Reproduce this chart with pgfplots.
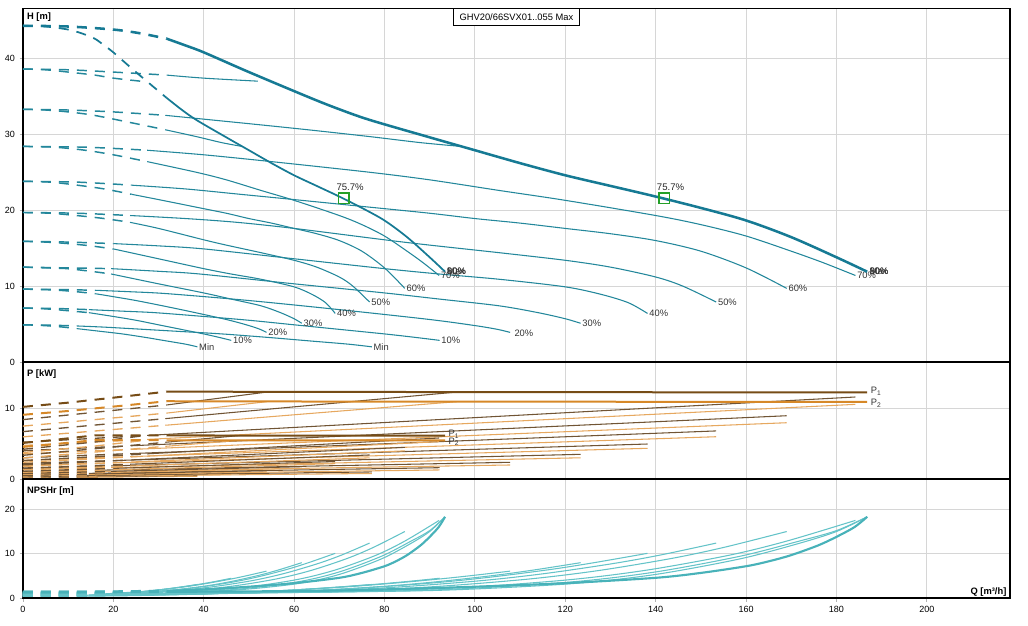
\documentclass[border=0pt]{standalone}
\usepackage{fontspec}
\setmainfont{Liberation Sans}
\usepackage{pgfplots}
\usepackage{pgfplotstable}
\pgfplotsset{compat=1.18}

\definecolor{hcol}{RGB}{35,135,155}
\definecolor{hthick}{RGB}{22,122,148}
\definecolor{ncol}{RGB}{100,195,200}
\definecolor{nthick}{RGB}{72,178,185}
\definecolor{p1col}{RGB}{112,84,52}
\definecolor{p1thick}{RGB}{118,76,22}
\definecolor{p2col}{RGB}{230,168,95}
\definecolor{p2thick}{RGB}{214,136,40}
\definecolor{mkgreen}{RGB}{36,160,40}
\definecolor{gridc}{RGB}{214,214,214}

% ---------------- H tables (single pump) ----------------
\pgfplotstableread[row sep=\\]{
Q Y\\
0 44.3\\
5 44.2\\
10 43.8\\
13 43.3\\
15.9 42.6\\
18 41.7\\
20 40.8\\
25 38.2\\
31.8 34.8\\
35 33.3\\
38.35 31.9\\
45 29.6\\
50 27.9\\
55 26.2\\
60 24.6\\
65 23.2\\
70 21.8\\
75 20.3\\
80 18.65\\
85 16.45\\
90 13.8\\
93.4 11.9\\
}\tHmax
\pgfplotstableread[row sep=\\]{
Q Y\\
0 38.6\\
5 38.5\\
10 38.2\\
15.9 37.8\\
20 37.4\\
26 37.0\\
}\tHninety
\pgfplotstableread[row sep=\\]{
Q Y\\
0 33.3\\
5 33.2\\
10 32.95\\
15.75 32.5\\
25 31.4\\
31.5 30.6\\
38.35 29.7\\
44 28.9\\
48.5 28.4\\
}\tHeighty
\pgfplotstableread[row sep=\\]{
Q Y\\
0 28.4\\
7 28.3\\
13.75 27.9\\
20 27.3\\
27.5 26.4\\
38.35 25.0\\
45 24.0\\
52.7 22.6\\
60 21.3\\
70 19.3\\
75 18.1\\
80 16.6\\
85 14.6\\
88.5 13.1\\
92.1 11.4\\
}\tHseventy
\pgfplotstableread[row sep=\\]{
Q Y\\
0 23.8\\
6 23.7\\
12 23.3\\
18 22.8\\
24 22.1\\
30 21.4\\
38.35 20.4\\
45 19.6\\
50 18.9\\
55 18.3\\
60 17.6\\
65 16.9\\
70 16.0\\
75 14.6\\
80 12.4\\
84.5 9.7\\
}\tHsixty
\pgfplotstableread[row sep=\\]{
Q Y\\
0 19.7\\
6 19.6\\
11.85 19.3\\
18 18.9\\
23.7 18.4\\
30 17.6\\
40 16.1\\
45 15.4\\
52.7 14.4\\
60 13.4\\
65 12.5\\
70 11.2\\
73 10.0\\
76.7 7.9\\
}\tHfifty
\pgfplotstableread[row sep=\\]{
Q Y\\
0 15.9\\
5 15.8\\
10 15.6\\
15 15.3\\
20 14.9\\
30 13.6\\
40 12.3\\
46 11.6\\
52.7 10.9\\
60 9.9\\
64 8.9\\
67 7.8\\
69.1 6.4\\
}\tHforty
\pgfplotstableread[row sep=\\]{
Q Y\\
0 12.5\\
5 12.4\\
9.75 12.3\\
15 11.95\\
19.5 11.6\\
30 10.3\\
40 9.1\\
46 8.3\\
52.7 7.4\\
57 6.5\\
60 5.7\\
61.7 5.1\\
}\tHthirty
\pgfplotstableread[row sep=\\]{
Q Y\\
0 9.6\\
4 9.55\\
8 9.45\\
12 9.25\\
16 9.0\\
25 8.1\\
35 6.9\\
45 5.6\\
50 4.8\\
52.5 4.3\\
53.9 3.9\\
}\tHtwenty
\pgfplotstableread[row sep=\\]{
Q Y\\
0 7.1\\
3.65 7.05\\
7.3 6.9\\
11 6.7\\
14.6 6.5\\
20 6.0\\
25 5.5\\
30 4.9\\
35 4.3\\
40 3.7\\
43 3.3\\
46.1 2.85\\
}\tHten
\pgfplotstableread[row sep=\\]{
Q Y\\
0 4.9\\
3 4.85\\
5.95 4.75\\
8.9 4.6\\
11.9 4.4\\
17 4.05\\
22 3.7\\
27 3.25\\
32 2.75\\
36 2.35\\
38.6 2.0\\
}\tHmin

% ---------------- P tables (single pump): A = P1, B = P2 ----------------
\pgfplotstableread[row sep=\\]{
Q A B\\
0 5.1 4.54\\
5 5.4 4.81\\
10 5.75 5.12\\
15.9 6.18 5.50\\
31.8 6.16 5.48\\
93.4 6.12 5.45\\
}\tPmax
\pgfplotstableread[row sep=\\]{
Q A B\\
0 4.2 3.74\\
15.9 5.235 4.66\\
27 6.15 5.47\\
}\tPninety
\pgfplotstableread[row sep=\\]{
Q A B\\
0 3.35 2.98\\
15.75 4.27 3.80\\
31.5 5.19 4.62\\
48 6.15 5.47\\
}\tPeighty
\pgfplotstableread[row sep=\\]{
Q A B\\
0 2.6 2.37\\
13.75 3.08 2.80\\
27.5 3.56 3.24\\
92.1 5.8 5.28\\
}\tPseventy
\pgfplotstableread[row sep=\\]{
Q A B\\
0 2.0 1.78\\
12 2.35 2.09\\
24 2.70 2.41\\
84.5 4.475 3.98\\
}\tPsixty
\pgfplotstableread[row sep=\\]{
Q A B\\
0 1.5 1.32\\
11.85 1.794 1.58\\
23.7 2.088 1.84\\
76.7 3.4 2.99\\
}\tPfifty
\pgfplotstableread[row sep=\\]{
Q A B\\
0 1.1 0.96\\
10 1.3 1.14\\
20 1.5 1.31\\
69.1 2.475 2.17\\
}\tPforty
\pgfplotstableread[row sep=\\]{
Q A B\\
0 0.775 0.667\\
9.75 0.929 0.799\\
19.5 1.082 0.931\\
61.7 1.745 1.50\\
}\tPthirty
\pgfplotstableread[row sep=\\]{
Q A B\\
0 0.52 0.437\\
8 0.618 0.519\\
16 0.716 0.601\\
53.9 1.18 0.991\\
}\tPtwenty
\pgfplotstableread[row sep=\\]{
Q A B\\
0 0.325 0.26\\
7.3 0.40 0.32\\
14.6 0.4755 0.38\\
46.1 0.80 0.64\\
}\tPten
\pgfplotstableread[row sep=\\]{
Q A B\\
0 0.19 0.148\\
5.95 0.238 0.186\\
11.9 0.286 0.223\\
38.6 0.5 0.39\\
}\tPmin

% ---------------- NPSHr tables (single pump) ----------------
\pgfplotstableread[row sep=\\]{
Q Y\\
0 1.4\\
15.9 1.45\\
31.8 1.65\\
40 2.0\\
50 2.6\\
60 3.4\\
70 4.6\\
75 5.7\\
80 7.2\\
82.5 8.3\\
85 9.7\\
88 11.9\\
90 13.8\\
92 16.0\\
93.4 18.3\\
}\tNmax
\pgfplotstableread[row sep=\\]{
Q Y\\
0 1.3\\
15.9 1.31\\
31.8 1.38\\
46.6 1.83\\
60.6 3.27\\
69.9 5.33\\
79.3 8.84\\
85.8 12.3\\
90 15.0\\
93.4 18.3\\
}\tNninety
\pgfplotstableread[row sep=\\]{
Q Y\\
0 1.2\\
15.75 1.2\\
31.5 1.33\\
46.6 1.96\\
60.6 3.66\\
69.9 5.89\\
79.3 9.43\\
85.8 12.8\\
90 15.2\\
93.4 18.3\\
}\tNeighty
\pgfplotstableread[row sep=\\]{
Q Y\\
0 1.1\\
13.75 1.11\\
27.5 1.23\\
45.9 2.13\\
59.7 4.03\\
68.9 6.29\\
78.1 9.66\\
84.5 12.85\\
92.1 17.5\\
}\tNseventy
\pgfplotstableread[row sep=\\]{
Q Y\\
0 1.0\\
12 1.02\\
24 1.17\\
42.2 2.24\\
54.8 4.10\\
63.3 6.12\\
71.7 8.93\\
77.6 11.46\\
84.5 15.0\\
}\tNsixty
\pgfplotstableread[row sep=\\]{
Q Y\\
0 0.9\\
11.85 0.93\\
23.7 1.17\\
38.3 2.15\\
49.8 3.80\\
57.45 5.48\\
65.1 7.74\\
70.5 9.71\\
76.7 12.4\\
}\tNfifty
\pgfplotstableread[row sep=\\]{
Q Y\\
0 0.8\\
10 0.83\\
20 1.03\\
34.4 1.96\\
44.75 3.35\\
51.6 4.72\\
58.5 6.51\\
63.3 8.04\\
69.1 10.1\\
}\tNforty
\pgfplotstableread[row sep=\\]{
Q Y\\
0 0.7\\
9.75 0.73\\
19.5 0.93\\
30.75 1.61\\
40 2.70\\
46.1 3.78\\
52.3 5.18\\
56.6 6.38\\
61.7 8.0\\
}\tNthirty
\pgfplotstableread[row sep=\\]{
Q Y\\
0 0.6\\
8 0.65\\
16 0.87\\
26.9 1.57\\
35 2.47\\
40.35 3.28\\
45.7 4.26\\
49.5 5.07\\
53.9 6.1\\
}\tNtwenty
\pgfplotstableread[row sep=\\]{
Q Y\\
0 0.5\\
7.3 0.54\\
14.6 0.73\\
23 1.21\\
29.9 1.86\\
34.5 2.45\\
39.1 3.16\\
42.4 3.75\\
46.1 4.5\\
}\tNten
\pgfplotstableread[row sep=\\]{
Q Y\\
0 0.45\\
5.95 0.475\\
11.9 0.59\\
19.25 0.92\\
25 1.35\\
28.9 1.74\\
32.7 2.22\\
35.4 2.6\\
38.6 3.1\\
}\tNmin

\tikzset{
 dp/.style={dash pattern=on 7.5pt off 6pt},
 lbl/.style={font=\fontsize{7}{8}\selectfont, anchor=west, inner sep=1pt, text=black!80},
 plbl/.style={font=\fontsize{7}{8}\selectfont, anchor=west, inner sep=2pt, text=black!80},
}

\pgfplotsset{
 hthin/.style={color=hcol, line width=0.8pt, smooth, tension=0.5},
 hmaxone/.style={color=hthick, line width=1.3pt, smooth, tension=0.5},
 hmaxtwo/.style={color=hthick, line width=1.9pt, smooth, tension=0.5},
 pone/.style={color=p1col, line width=0.8pt},
 ptwo/.style={color=p2col, line width=0.8pt},
 ponemax/.style={color=p1thick, line width=1.5pt},
 ptwomax/.style={color=p2thick, line width=1.5pt},
 nthin/.style={color=ncol, line width=0.8pt, smooth, tension=0.5},
 nmax/.style={color=nthick, line width=1.6pt, smooth, tension=0.5},
 panel/.style={scale only axis, width=740.3pt, xmin=0, xmax=218.4, clip=false,
   xtick={0,20,...,200}, grid=major, major grid style={draw=gridc, line width=0.75pt},
   axis line style={line width=0.9pt}, tick align=outside, major tick length=2.5pt,
   xtick pos=bottom, ytick pos=left,
   tick style={draw=gray!60, line width=0.6pt},
   tick label style={font=\fontsize{6.75}{8}\selectfont},
   /pgf/number format/assume math mode=true},
}

% #1 table, #2 column, #3 Qd-lo, #4 Qd-hi, #5 style, #6 y factor of the two-pump curve, #7 end node, #8 extra dashed style
\newcommand{\curvefam}[8]{%
  \addplot[#5,dp,#8,restrict x to domain=0:#4] table[x=Q,y=#2]{#1};
  \addplot[#5,restrict x to domain=#3:300] table[x=Q,y=#2]{#1} #7;
  \addplot[#5,dp,#8,restrict x to domain=0:#4] table[x expr=2*\thisrow{Q},y expr=#6*\thisrow{#2}]{#1};
  \addplot[#5,restrict x to domain=#3:300] table[x expr=2*\thisrow{Q},y expr=#6*\thisrow{#2}]{#1} #7;
}

\begin{document}
\begin{tikzpicture}
\useasboundingbox (0,0) rectangle (771pt,468.75pt);

% ================= H panel =================
\begin{axis}[panel, at={(17.18pt,197.25pt)}, anchor=south west, height=265.27pt,
  ymin=0, ymax=46.6, ytick={0,10,20,30,40}, xticklabels={},
  extra description/.code={\draw[line width=2pt] (rel axis cs:0,0)--(rel axis cs:1,0);}]
\curvefam{\tHmin}{Y}{11.89}{11.91}{hthin}{1}{node[lbl,pos=1]{Min}}{line width=1.1pt}
\curvefam{\tHten}{Y}{14.59}{14.61}{hthin}{1}{node[lbl,pos=1]{10\%}}{line width=1.1pt}
\curvefam{\tHtwenty}{Y}{15.99}{16.01}{hthin}{1}{node[lbl,pos=1]{20\%}}{line width=1.1pt}
\curvefam{\tHthirty}{Y}{19.49}{19.51}{hthin}{1}{node[lbl,pos=1]{30\%}}{line width=1.1pt}
\curvefam{\tHforty}{Y}{19.99}{20.01}{hthin}{1}{node[lbl,pos=1]{40\%}}{line width=1.1pt}
\curvefam{\tHfifty}{Y}{23.69}{23.71}{hthin}{1}{node[lbl,pos=1]{50\%}}{line width=1.1pt}
\curvefam{\tHsixty}{Y}{23.99}{24.01}{hthin}{1}{node[lbl,pos=1]{60\%}}{line width=1.1pt}
\curvefam{\tHseventy}{Y}{27.49}{27.51}{hthin}{1}{node[lbl,pos=1]{70\%}}{line width=1.1pt}
\curvefam{\tHeighty}{Y}{31.49}{31.51}{hthin}{1}{}{line width=1.1pt}
% 90 %
\addplot[hthin,dp,line width=1.1pt] table[x=Q,y=Y]{\tHninety};
\addplot[hthin,dp,line width=1.1pt,restrict x to domain=0:31.81] table[x expr=2*\thisrow{Q},y=Y]{\tHninety};
\addplot[hthin,restrict x to domain=31.79:300] table[x expr=2*\thisrow{Q},y=Y]{\tHninety};
% Max
\addplot[hmaxone,dp,restrict x to domain=0:31.81] table[x=Q,y=Y]{\tHmax};
\addplot[hmaxone,restrict x to domain=31.79:300] table[x=Q,y=Y]{\tHmax}
  node[lbl,pos=1]{80\%} node[lbl,pos=1]{90\%} node[lbl,pos=1]{Max};
\addplot[hmaxtwo,dp,restrict x to domain=0:31.81] table[x expr=2*\thisrow{Q},y=Y]{\tHmax};
\addplot[hmaxtwo,restrict x to domain=31.79:300] table[x expr=2*\thisrow{Q},y=Y]{\tHmax}
  node[lbl,pos=1]{80\%} node[lbl,pos=1]{90\%} node[lbl,pos=1]{Max};
% best efficiency points
\addplot[only marks, mark=square, mark size=3.9pt, mark options={draw=mkgreen, line width=1.1pt, fill=none},
  nodes near coords={75.7\%},
  nodes near coords style={font=\fontsize{7.2}{8}\selectfont, anchor=base west, xshift=-6pt, yshift=6pt, inner sep=0pt, text=black!85}]
  coordinates {(71.0,21.6) (141.9,21.6)};
\node[draw=black, line width=0.6pt, fill=white, anchor=north, minimum width=95pt, minimum height=12.5pt, inner sep=0pt,
  font=\fontsize{7}{8}\selectfont] at (rel axis cs:0.5,1) {GHV20/66SVX01..055 Max};
\node[anchor=north west, inner sep=0pt, font=\bfseries\fontsize{7}{8}\selectfont] at (rel axis cs:0,1) [xshift=3pt, yshift=-3.2pt] {H [m]};
\end{axis}

% ================= P panel =================
\begin{axis}[panel, at={(17.18pt,109.5pt)}, anchor=south west, height=87.75pt,
  ymin=0, ymax=16.55, ytick={0,10}, xticklabels={},
  extra description/.code={\draw[line width=2pt] (rel axis cs:0,0)--(rel axis cs:1,0);}]
\curvefam{\tPmin}{B}{11.89}{11.91}{ptwo}{2}{}{line width=1pt}
\curvefam{\tPmin}{A}{11.89}{11.91}{pone}{2}{}{line width=1pt}
\curvefam{\tPten}{B}{14.59}{14.61}{ptwo}{2}{}{line width=1pt}
\curvefam{\tPten}{A}{14.59}{14.61}{pone}{2}{}{line width=1pt}
\curvefam{\tPtwenty}{B}{15.99}{16.01}{ptwo}{2}{}{line width=1pt}
\curvefam{\tPtwenty}{A}{15.99}{16.01}{pone}{2}{}{line width=1pt}
\curvefam{\tPthirty}{B}{19.49}{19.51}{ptwo}{2}{}{line width=1pt}
\curvefam{\tPthirty}{A}{19.49}{19.51}{pone}{2}{}{line width=1pt}
\curvefam{\tPforty}{B}{19.99}{20.01}{ptwo}{2}{}{line width=1pt}
\curvefam{\tPforty}{A}{19.99}{20.01}{pone}{2}{}{line width=1pt}
\curvefam{\tPfifty}{B}{23.69}{23.71}{ptwo}{2}{}{line width=1pt}
\curvefam{\tPfifty}{A}{23.69}{23.71}{pone}{2}{}{line width=1pt}
\curvefam{\tPsixty}{B}{23.99}{24.01}{ptwo}{2}{}{line width=1pt}
\curvefam{\tPsixty}{A}{23.99}{24.01}{pone}{2}{}{line width=1pt}
\curvefam{\tPseventy}{B}{27.49}{27.51}{ptwo}{2}{}{line width=1pt}
\curvefam{\tPseventy}{A}{27.49}{27.51}{pone}{2}{}{line width=1pt}
\curvefam{\tPeighty}{B}{31.49}{31.51}{ptwo}{2}{}{line width=1pt}
\curvefam{\tPeighty}{A}{31.49}{31.51}{pone}{2}{}{line width=1pt}
% 90 %
\addplot[ptwo,dp,line width=1pt] table[x=Q,y=B]{\tPninety};
\addplot[pone,dp,line width=1pt] table[x=Q,y=A]{\tPninety};
\addplot[ptwo,dp,line width=1pt,restrict x to domain=0:31.81] table[x expr=2*\thisrow{Q},y expr=2*\thisrow{B}]{\tPninety};
\addplot[ptwo,restrict x to domain=31.79:300] table[x expr=2*\thisrow{Q},y expr=2*\thisrow{B}]{\tPninety};
\addplot[pone,dp,line width=1pt,restrict x to domain=0:31.81] table[x expr=2*\thisrow{Q},y expr=2*\thisrow{A}]{\tPninety};
\addplot[pone,restrict x to domain=31.79:300] table[x expr=2*\thisrow{Q},y expr=2*\thisrow{A}]{\tPninety};
% Max
\curvefam{\tPmax}{B}{31.79}{31.81}{ptwomax}{2}{node[plbl,pos=1,yshift=-1pt]{P\textsubscript{2}}}{}
\curvefam{\tPmax}{A}{31.79}{31.81}{ponemax}{2}{node[plbl,pos=1,yshift=1pt]{P\textsubscript{1}}}{}
\node[anchor=north west, inner sep=0pt, font=\bfseries\fontsize{7}{8}\selectfont] at (rel axis cs:0,1) [xshift=3pt, yshift=-5.3pt] {P [kW]};
\end{axis}

% ================= NPSHr panel =================
\begin{axis}[panel, at={(17.18pt,20.03pt)}, anchor=south west, height=89.48pt,
  ymin=0, ymax=26.8, ytick={0,10,20},
  extra description/.code={\draw[line width=1.4pt] (rel axis cs:0,0)--(rel axis cs:1,0);}]
\curvefam{\tNmin}{Y}{11.89}{11.91}{nthin}{1}{}{line width=1.8pt}
\curvefam{\tNten}{Y}{14.59}{14.61}{nthin}{1}{}{line width=1.8pt}
\curvefam{\tNtwenty}{Y}{15.99}{16.01}{nthin}{1}{}{line width=1.8pt}
\curvefam{\tNthirty}{Y}{19.49}{19.51}{nthin}{1}{}{line width=1.8pt}
\curvefam{\tNforty}{Y}{19.99}{20.01}{nthin}{1}{}{line width=1.8pt}
\curvefam{\tNfifty}{Y}{23.69}{23.71}{nthin}{1}{}{line width=1.8pt}
\curvefam{\tNsixty}{Y}{23.99}{24.01}{nthin}{1}{}{line width=1.8pt}
\curvefam{\tNseventy}{Y}{27.49}{27.51}{nthin}{1}{}{line width=1.8pt}
\curvefam{\tNeighty}{Y}{31.49}{31.51}{nthin}{1}{}{line width=1.8pt}
\curvefam{\tNninety}{Y}{31.79}{31.81}{nthin}{1}{}{line width=1.8pt}
\curvefam{\tNmax}{Y}{31.79}{31.81}{nmax}{1}{}{line width=2pt}
\node[anchor=north west, inner sep=0pt, font=\bfseries\fontsize{7}{8}\selectfont] at (rel axis cs:0,1) [xshift=3pt, yshift=-5.6pt] {NPSHr [m]};
\node[anchor=base east, inner sep=0pt, font=\bfseries\fontsize{7}{8}\selectfont] at (rel axis cs:1,0) [xshift=-2.5pt, yshift=3pt] {Q [m³/h]};
\end{axis}
\end{tikzpicture}
\end{document}
